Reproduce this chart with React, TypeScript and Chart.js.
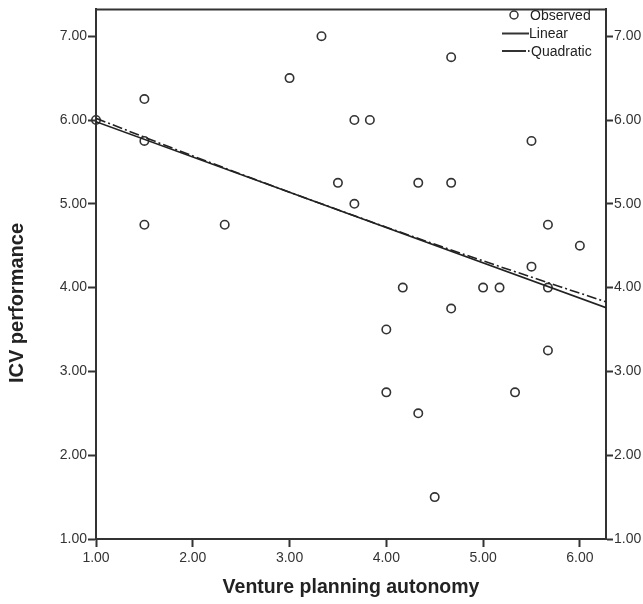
import { useEffect, useRef } from "react";
import { Chart, registerables } from "chart.js";
Chart.register(...registerables);

const observedX = [1.0, 1.5, 1.5, 1.5, 2.33, 3.0, 3.33, 3.5, 3.67, 3.67, 3.83, 4.0, 4.0, 4.17, 4.33, 4.33, 4.5, 4.67, 4.67, 4.67, 5.0, 5.17, 5.33, 5.5, 5.5, 5.67, 5.67, 5.67, 6.0];
const observedY = [6.0, 6.25, 5.75, 4.75, 4.75, 6.5, 7.0, 5.25, 6.0, 5.0, 6.0, 3.5, 2.75, 4.0, 5.25, 2.5, 1.5, 6.75, 5.25, 3.75, 4.0, 4.0, 2.75, 5.75, 4.25, 4.75, 4.0, 3.25, 4.5];

const linearX = [1.0, 6.27];
const linearY = [5.98, 3.76];

const quadX = [1.0, 2.0, 3.0, 4.0, 5.0, 6.0, 6.27];
const quadY = [6.02, 5.572, 5.139, 4.721, 4.319, 3.933, 3.83];

const xTicks = [1, 2, 3, 4, 5, 6];
const yTicks = [1, 2, 3, 4, 5, 6, 7];

const xTitle = "Venture planning autonomy";
const yTitle = "ICV performance";
const legendLabels = ["Observed", "Linear", "Quadratic"];

const FONT = "'Liberation Sans', Arial, sans-serif";
const INK = "#333333";

const framePlugin = {
  id: "frame",
  afterDatasetsDraw(chart: any) {
    const { ctx, chartArea } = chart;
    ctx.save();
    ctx.strokeStyle = INK;
    ctx.lineWidth = 2;
    ctx.beginPath();
    ctx.moveTo(chartArea.left - 1, chartArea.top);
    ctx.lineTo(chartArea.right + 1, chartArea.top);
    ctx.stroke();
    ctx.restore();
  },
  afterDraw(chart: any) {
    const { ctx } = chart;
    ctx.save();
    // y-axis title
    ctx.save();
    ctx.translate(17, 303);
    ctx.rotate(-Math.PI / 2);
    ctx.font = `bold 20px ${FONT}`;
    ctx.fillStyle = "#222";
    ctx.textAlign = "center";
    ctx.textBaseline = "middle";
    ctx.fillText(yTitle, 0, 0);
    ctx.restore();
    // legend
    ctx.font = `14px ${FONT}`;
    ctx.fillStyle = "#222";
    ctx.textBaseline = "middle";
    ctx.textAlign = "left";
    ctx.strokeStyle = INK;
    ctx.lineWidth = 1.5;
    ctx.beginPath();
    ctx.arc(514, 15, 4, 0, Math.PI * 2);
    ctx.stroke();
    ctx.fillText(legendLabels[0], 530, 16);
    ctx.lineWidth = 2;
    ctx.beginPath();
    ctx.moveTo(502, 33.5);
    ctx.lineTo(529, 33.5);
    ctx.stroke();
    ctx.fillText(legendLabels[1], 529, 34);
    ctx.setLineDash([24, 2, 1.5, 2]);
    ctx.beginPath();
    ctx.moveTo(502, 51);
    ctx.lineTo(529.5, 51);
    ctx.stroke();
    ctx.setLineDash([]);
    ctx.fillText(legendLabels[2], 531, 52);
    ctx.restore();
  },
};

export default function App() {
  const ref = useRef<HTMLCanvasElement | null>(null);
  useEffect(() => {
    document.body.style.margin = "0";
    const canvas = ref.current!;
    const chart = new Chart(canvas, {
      type: "scatter",
      data: {
        datasets: [
          {
            type: "line",
            label: "Linear",
            data: linearX.map((x, i) => ({ x, y: linearY[i] })),
            borderColor: "#222",
            borderWidth: 1.6,
            pointRadius: 0,
            fill: false,
          } as any,
          {
            type: "line",
            label: "Quadratic",
            data: quadX.map((x, i) => ({ x, y: quadY[i] })),
            borderColor: "#222",
            borderWidth: 1.6,
            borderDash: [10, 3, 2, 3],
            pointRadius: 0,
            cubicInterpolationMode: "monotone",
            fill: false,
          } as any,
          {
            type: "scatter",
            label: "Observed",
            data: observedX.map((x, i) => ({ x, y: observedY[i] })),
            pointRadius: 4.2,
            pointBorderWidth: 1.6,
            pointBorderColor: INK,
            pointBackgroundColor: "rgba(0,0,0,0)",
            borderColor: INK,
            backgroundColor: "rgba(0,0,0,0)",
            clip: false,
          } as any,
        ],
      },
      options: {
        animation: false,
        responsive: false,
        devicePixelRatio: 1,
        layout: { padding: { top: 6, left: 0, right: 0, bottom: 0 } },
        plugins: {
          legend: { display: false },
          tooltip: { enabled: false },
        },
        scales: {
          x: {
            type: "linear",
            position: "bottom",
            min: 1,
            max: 6.27,
            afterBuildTicks: (s: any) => {
              s.ticks = xTicks.map((v) => ({ value: v }));
            },
            afterFit: (s: any) => {
              s.height = 65;
            },
            grid: {
              drawOnChartArea: false,
              drawTicks: true,
              tickLength: 8,
              tickWidth: 2,
              tickColor: INK,
            },
            border: { display: true, color: INK, width: 2 },
            ticks: {
              padding: 3,
              color: "#333",
              font: { family: FONT, size: 14 },
              callback: (v: any) => Number(v).toFixed(2),
              maxRotation: 0,
            },
            title: {
              display: true,
              text: xTitle,
              color: "#222",
              font: { family: FONT, size: 19.5, weight: "bold" },
              padding: { top: 0, bottom: 5 },
            },
          },
          y: {
            type: "linear",
            position: "left",
            min: 1,
            max: 7.32,
            afterBuildTicks: (s: any) => {
              s.ticks = yTicks.map((v) => ({ value: v }));
            },
            afterFit: (s: any) => {
              s.width = 96;
            },
            grid: {
              drawOnChartArea: false,
              drawTicks: true,
              tickLength: 8,
              tickWidth: 2,
              tickColor: INK,
            },
            border: { display: true, color: INK, width: 2 },
            ticks: {
              padding: 1,
              color: "#333",
              font: { family: FONT, size: 14 },
              callback: (v: any) => Number(v).toFixed(2),
            },
          },
          y2: {
            type: "linear",
            position: "right",
            min: 1,
            max: 7.32,
            afterBuildTicks: (s: any) => {
              s.ticks = yTicks.map((v) => ({ value: v }));
            },
            afterFit: (s: any) => {
              s.width = 37;
            },
            grid: {
              drawOnChartArea: false,
              drawTicks: true,
              tickLength: 7,
              tickWidth: 2,
              tickColor: INK,
            },
            border: { display: true, color: INK, width: 2 },
            ticks: {
              padding: 1,
              color: "#333",
              font: { family: FONT, size: 14 },
              callback: (v: any) => Number(v).toFixed(2),
            },
          },
        },
      } as any,
      plugins: [framePlugin],
    });
    return () => chart.destroy();
  }, []);
  return (
    <div style={{ width: 643, height: 604 }}>
      <canvas ref={ref} width={643} height={604} style={{ display: "block" }} />
    </div>
  );
}
